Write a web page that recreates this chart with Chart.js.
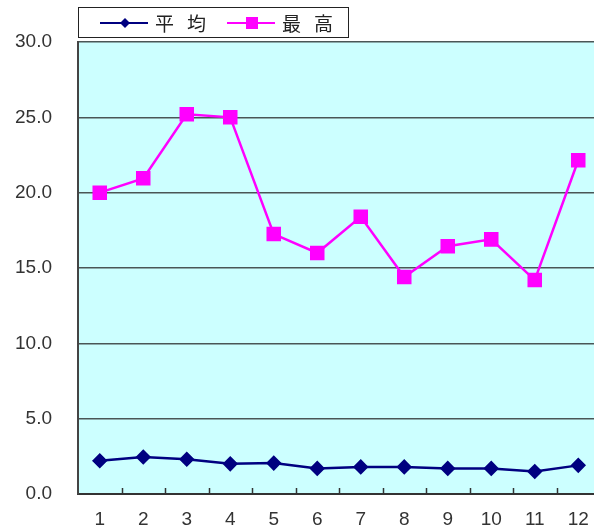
<!DOCTYPE html>
<html><head><meta charset="utf-8">
<script src="https://cdn.jsdelivr.net/npm/chart.js@4/dist/chart.umd.min.js"></script>
<style>html,body{margin:0;padding:0;overflow:hidden;background:#fff;}#wrap{width:600px;height:531px;}</style>
</head><body><div id="wrap"><canvas id="c" width="600" height="531"></canvas></div>
<script>
const categories = ['1','2','3','4','5','6','7','8','9','10','11','12'];
const seriesNames = ['平 均', '最 高'];
const avgValues = [2.2, 2.45, 2.3, 2.0, 2.05, 1.7, 1.8, 1.8, 1.7, 1.7, 1.5, 1.9];
const maxValues = [20.0, 20.95, 25.2, 25.0, 17.25, 16.0, 18.4, 14.4, 16.45, 16.9, 14.2, 22.15];
const yTicks = [0, 5, 10, 15, 20, 25, 30];

const NAVY = '#000080', MAG = '#FF00FF';

function drawSpaced(ctx, text, x, y, gap) {
  const chars = text.replace(/ /g, '').split('');
  let cx = x;
  chars.forEach(ch => { ctx.fillText(ch, cx, y); cx += ctx.measureText(ch).width + gap; });
}

const bgPlugin = {
  id: 'bg',
  beforeDraw(chart) {
    const a = chart.chartArea, ctx = chart.ctx;
    ctx.save();
    ctx.fillStyle = '#CCFFFF';
    ctx.fillRect(a.left, a.top, a.right - a.left, a.bottom - a.top);
    ctx.restore();
  },
  afterDatasetsDraw(chart) {
    const a = chart.chartArea, ctx = chart.ctx, xs = chart.scales.x;
    ctx.save();
    ctx.strokeStyle = '#333';
    ctx.lineWidth = 1.5;
    for (let i = 1; i < categories.length; i++) {
      const x = Math.round((xs.getPixelForValue(i - 1) + xs.getPixelForValue(i)) / 2) + 0.5;
      ctx.beginPath(); ctx.moveTo(x, a.bottom); ctx.lineTo(x, a.bottom - 6); ctx.stroke();
    }
    ctx.restore();
  },
  afterDraw(chart) {
    const ctx = chart.ctx;
    ctx.save();
    ctx.fillStyle = '#fff';
    ctx.fillRect(78.5, 7.5, 270, 30);
    ctx.strokeStyle = '#222';
    ctx.lineWidth = 1;
    ctx.strokeRect(78.5, 7.5, 270, 30);
    const cy = 23;
    ctx.strokeStyle = NAVY; ctx.lineWidth = 2;
    ctx.beginPath(); ctx.moveTo(100, cy); ctx.lineTo(148, cy); ctx.stroke();
    ctx.fillStyle = NAVY;
    ctx.beginPath(); ctx.moveTo(125, cy - 5); ctx.lineTo(130, cy); ctx.lineTo(125, cy + 5); ctx.lineTo(120, cy); ctx.closePath(); ctx.fill();
    ctx.fillStyle = '#222';
    ctx.font = '19px "Noto Sans CJK JP"';
    ctx.textBaseline = 'middle';
    drawSpaced(ctx, seriesNames[0], 155, cy + 1, 13);
    ctx.strokeStyle = MAG; ctx.lineWidth = 2;
    ctx.beginPath(); ctx.moveTo(227, cy); ctx.lineTo(275, cy); ctx.stroke();
    ctx.fillStyle = MAG;
    ctx.fillRect(246, cy - 6, 12, 12);
    ctx.fillStyle = '#222';
    drawSpaced(ctx, seriesNames[1], 282, cy + 1, 13);
    ctx.restore();
  }
};

new Chart(document.getElementById('c'), {
  type: 'line',
  data: {
    labels: categories,
    datasets: [
      { label: seriesNames[0], data: avgValues, borderColor: NAVY, backgroundColor: NAVY, borderWidth: 2.5,
        pointStyle: 'rectRot', pointRadius: 6, pointHoverRadius: 6, tension: 0 },
      { label: seriesNames[1], data: maxValues, borderColor: MAG, backgroundColor: MAG, borderWidth: 2.5,
        pointStyle: 'rect', pointRadius: 8.5, pointHoverRadius: 8.5, tension: 0 }
    ]
  },
  options: {
    responsive: false,
    animation: false,
    devicePixelRatio: 1,
    layout: { autoPadding: false, padding: { top: 42, left: 0, right: 0, bottom: 0 } },
    plugins: { legend: { display: false }, tooltip: { enabled: false } },
    scales: {
      x: {
        offset: true,
        grid: { display: false, drawTicks: false },
        border: { display: true, color: '#333', width: 2 },
        ticks: { padding: 14, color: '#333', font: { family: 'Liberation Sans', size: 19 }, maxRotation: 0 },
        afterFit(s) { s.height = 37; s.paddingLeft = 0; s.paddingRight = 0; }
      },
      y: {
        min: 0, max: 30,
        afterBuildTicks(s) { s.ticks = yTicks.map(v => ({ value: v })); },
        grid: { color: '#4a5656', lineWidth: 1.6, drawTicks: false },
        border: { display: true, color: '#444', width: 2 },
        ticks: { padding: 26, color: '#333', font: { family: 'Liberation Sans', size: 19 },
          callback: v => Number(v).toFixed(1) },
        afterFit(s) { s.width = 78; s.paddingTop = 0; s.paddingBottom = 0; }
      }
    }
  },
  plugins: [bgPlugin]
});
</script></body></html>
